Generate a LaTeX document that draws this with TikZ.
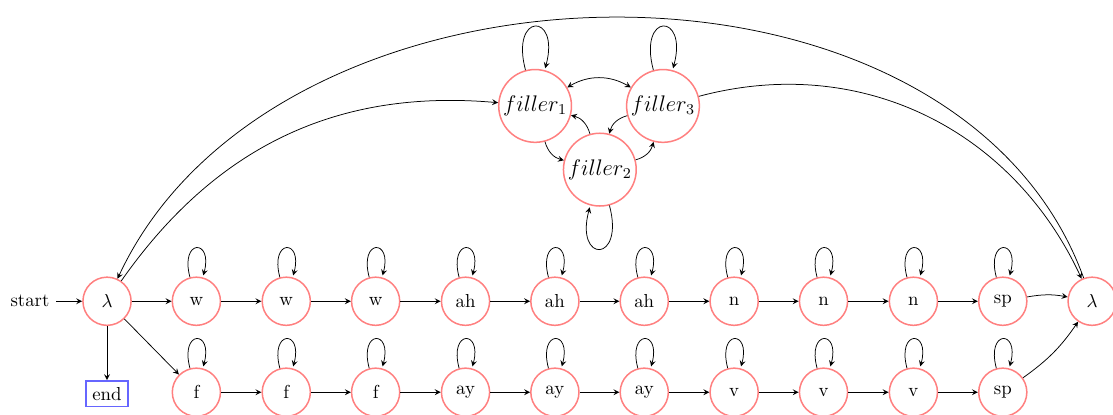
\documentclass[tikz,border=0pt]{standalone}
\usepackage{amsmath}
\usepackage{tikz}
\usetikzlibrary{arrows}

\tikzset{
  phone/.style={circle,draw=red!50,thick,minimum size=0.9cm,inner sep=0pt},
  fillstate/.style={phone,minimum size=1.36cm,font=\large},
  endbox/.style={rectangle,draw=blue!60,thick},
  >=stealth
}

\begin{document}
\begin{tikzpicture}
            \useasboundingbox (0,0) rectangle (20.80,-7.74);

            % filler states
            \node[fillstate] (fil1) at (10.00,-1.98) {$filler_1$};
            \node[fillstate] (fil2) at (11.21,-3.17) {$filler_2$};
            \node[fillstate] (fil3) at (12.39,-1.98) {$filler_3$};

            % first word
            \node (start) at (0.56,-5.63) {start};
            \node[phone] (lamS) at (2.00,-5.63) {$\lambda$};
            \node[phone] (w1) at (3.67,-5.63) {w};
            \node[phone] (w2) at (5.35,-5.63) {w};
            \node[phone] (w3) at (7.02,-5.63) {w};
            \node[phone] (ah1) at (8.70,-5.63) {ah};
            \node[phone] (ah2) at (10.37,-5.63) {ah};
            \node[phone] (ah3) at (12.04,-5.63) {ah};
            \node[phone] (n1) at (13.72,-5.63) {n};
            \node[phone] (n2) at (15.39,-5.63) {n};
            \node[phone] (n3) at (17.07,-5.63) {n};
            \node[phone] (spA) at (18.74,-5.63) {sp};
            \node[phone] (lamE) at (20.41,-5.63) {$\lambda$};

            % second word
            \node[endbox] (fin) at (2.00,-7.36) {end};
            \node[phone] (f1) at (3.67,-7.33) {f};
            \node[phone] (f2) at (5.35,-7.33) {f};
            \node[phone] (f3) at (7.02,-7.33) {f};
            \node[phone] (ay1) at (8.70,-7.33) {ay};
            \node[phone] (ay2) at (10.37,-7.33) {ay};
            \node[phone] (ay3) at (12.04,-7.33) {ay};
            \node[phone] (v1) at (13.72,-7.33) {v};
            \node[phone] (v2) at (15.39,-7.33) {v};
            \node[phone] (v3) at (17.07,-7.33) {v};
            \node[phone] (spB) at (18.74,-7.33) {sp};

            % self loops
            \path[->] (fil1) edge[loop above] ();
            \path[->] (fil3) edge[loop above] ();
            \path[->] (fil2) edge[loop below] ();
            \path[->] (w1) edge[loop above] () (w2) edge[loop above] () (w3) edge[loop above] ();
            \path[->] (ah1) edge[loop above] () (ah2) edge[loop above] () (ah3) edge[loop above] ();
            \path[->] (n1) edge[loop above] () (n2) edge[loop above] () (n3) edge[loop above] ();
            \path[->] (spA) edge[loop above] ();
            \path[->] (f1) edge[loop above] () (f2) edge[loop above] () (f3) edge[loop above] ();
            \path[->] (ay1) edge[loop above] () (ay2) edge[loop above] () (ay3) edge[loop above] ();
            \path[->] (v1) edge[loop above] () (v2) edge[loop above] () (v3) edge[loop above] ();
            \path[->] (spB) edge[loop above] ();

            % filler transitions
            \draw[<->] (fil1) to[bend left] (fil3);
            \draw[->] (fil1) to[bend right] (fil2);
            \draw[->] (fil2) to[bend right] (fil1);
            \draw[->] (fil2) to[bend right] (fil3);
            \draw[->] (fil3) to[bend right] (fil2);

            % chains
            \draw[->] (start) -- (lamS);
            \draw[->] (lamS) -- (w1);
            \draw[->] (w1) -- (w2);
            \draw[->] (w2) -- (w3);
            \draw[->] (w3) -- (ah1);
            \draw[->] (ah1) -- (ah2);
            \draw[->] (ah2) -- (ah3);
            \draw[->] (ah3) -- (n1);
            \draw[->] (n1) -- (n2);
            \draw[->] (n2) -- (n3);
            \draw[->] (n3) -- (spA);
            \draw[->] (spA) to[bend left=10] (lamE);

            \draw[->] (lamS) -- (fin);
            \draw[->] (lamS) -- (f1);
            \draw[->] (f1) -- (f2);
            \draw[->] (f2) -- (f3);
            \draw[->] (f3) -- (ay1);
            \draw[->] (ay1) -- (ay2);
            \draw[->] (ay2) -- (ay3);
            \draw[->] (ay3) -- (v1);
            \draw[->] (v1) -- (v2);
            \draw[->] (v2) -- (v3);
            \draw[->] (v3) -- (spB);
            \draw[->] (spB) to[bend right=10] (lamE);

            % long arcs
            \draw[->] (lamS) to[out=55,in=175] (fil1);
            \draw[->] (fil3) to[out=15,in=115] (lamE);
            \draw[->] (lamE) to[out=110,in=65,looseness=1.0] (lamS);
          \end{tikzpicture}
\end{document}
